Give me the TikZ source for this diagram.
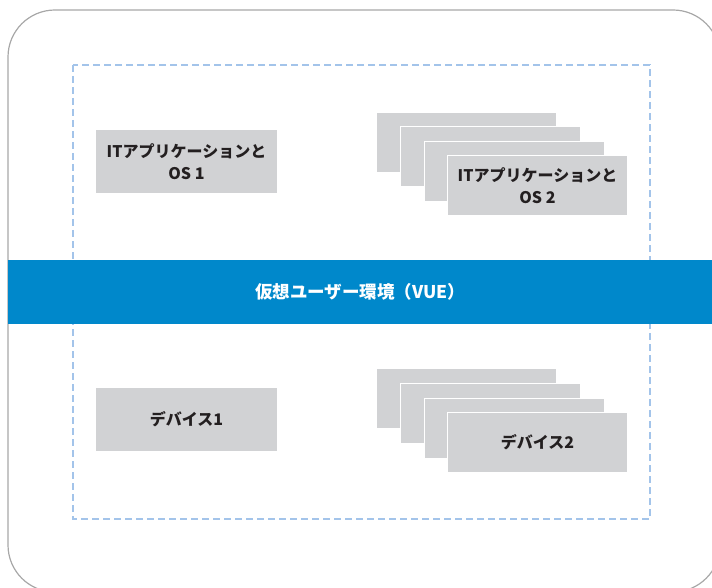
\documentclass[tikz,border=0pt]{standalone}
\usepackage{fontspec}
\newfontfamily\jp{Noto Sans CJK JP}
\definecolor{vueblue}{HTML}{0088CB}
\definecolor{boxgray}{HTML}{D1D2D4}
\definecolor{txtdark}{HTML}{231F20}
\definecolor{dashblue}{HTML}{A3C4EA}
\definecolor{framegray}{HTML}{A8A8A8}
\tikzset{
  graybox/.style={fill=boxgray, draw=white, line width=1pt, inner sep=0pt,
    anchor=north west, text=txtdark, font=\jp\bfseries\fontsize{16}{21.5}\selectfont,
    align=center},
  stackbox/.style={graybox, minimum width=180pt, minimum height=60pt},
  singlebox/.style={graybox, minimum width=182pt, minimum height=64pt},
  vueband/.style={fill=vueblue, inner sep=0pt, anchor=north west, minimum width=704pt,
    minimum height=64pt, text=white, font=\jp\bfseries\fontsize{17.5}{20}\selectfont},
  outerframe/.style={draw=framegray, line width=1.2pt, rounded corners=47pt},
  dashframe/.style={draw=dashblue, line width=2.6pt, dash pattern=on 7pt off 4pt}
}
\begin{document}
\begin{tikzpicture}[x=1pt,y=-1pt]
\useasboundingbox (0,0) rectangle (712,588);
\begin{scope}
  \clip (0,0) rectangle (712,588);
  \draw[outerframe] (8,10) rectangle (720,592);
\end{scope}
\draw[dashframe] (73,65) rectangle (650,519);

% top row
\node[singlebox] (app1) at (95,129) {ITアプリケーションと\\OS 1};
\node[stackbox] (app2a) at (376,112) {};
\node[stackbox] (app2b) at (400,126) {};
\node[stackbox] (app2c) at (424,141) {};
\node[stackbox] (app2) at (447,155) {ITアプリケーションと\\OS 2};

% band
\node[vueband] (vue) at (8,260) {仮想ユーザー環境（VUE）};

% bottom row
\node[singlebox] (dev1) at (95,387) {デバイス1};
\node[stackbox] (dev2a) at (376,368) {};
\node[stackbox] (dev2b) at (400,383) {};
\node[stackbox] (dev2c) at (424,398) {};
\node[stackbox] (dev2) at (447,412) {デバイス2};
\end{tikzpicture}
\end{document}
